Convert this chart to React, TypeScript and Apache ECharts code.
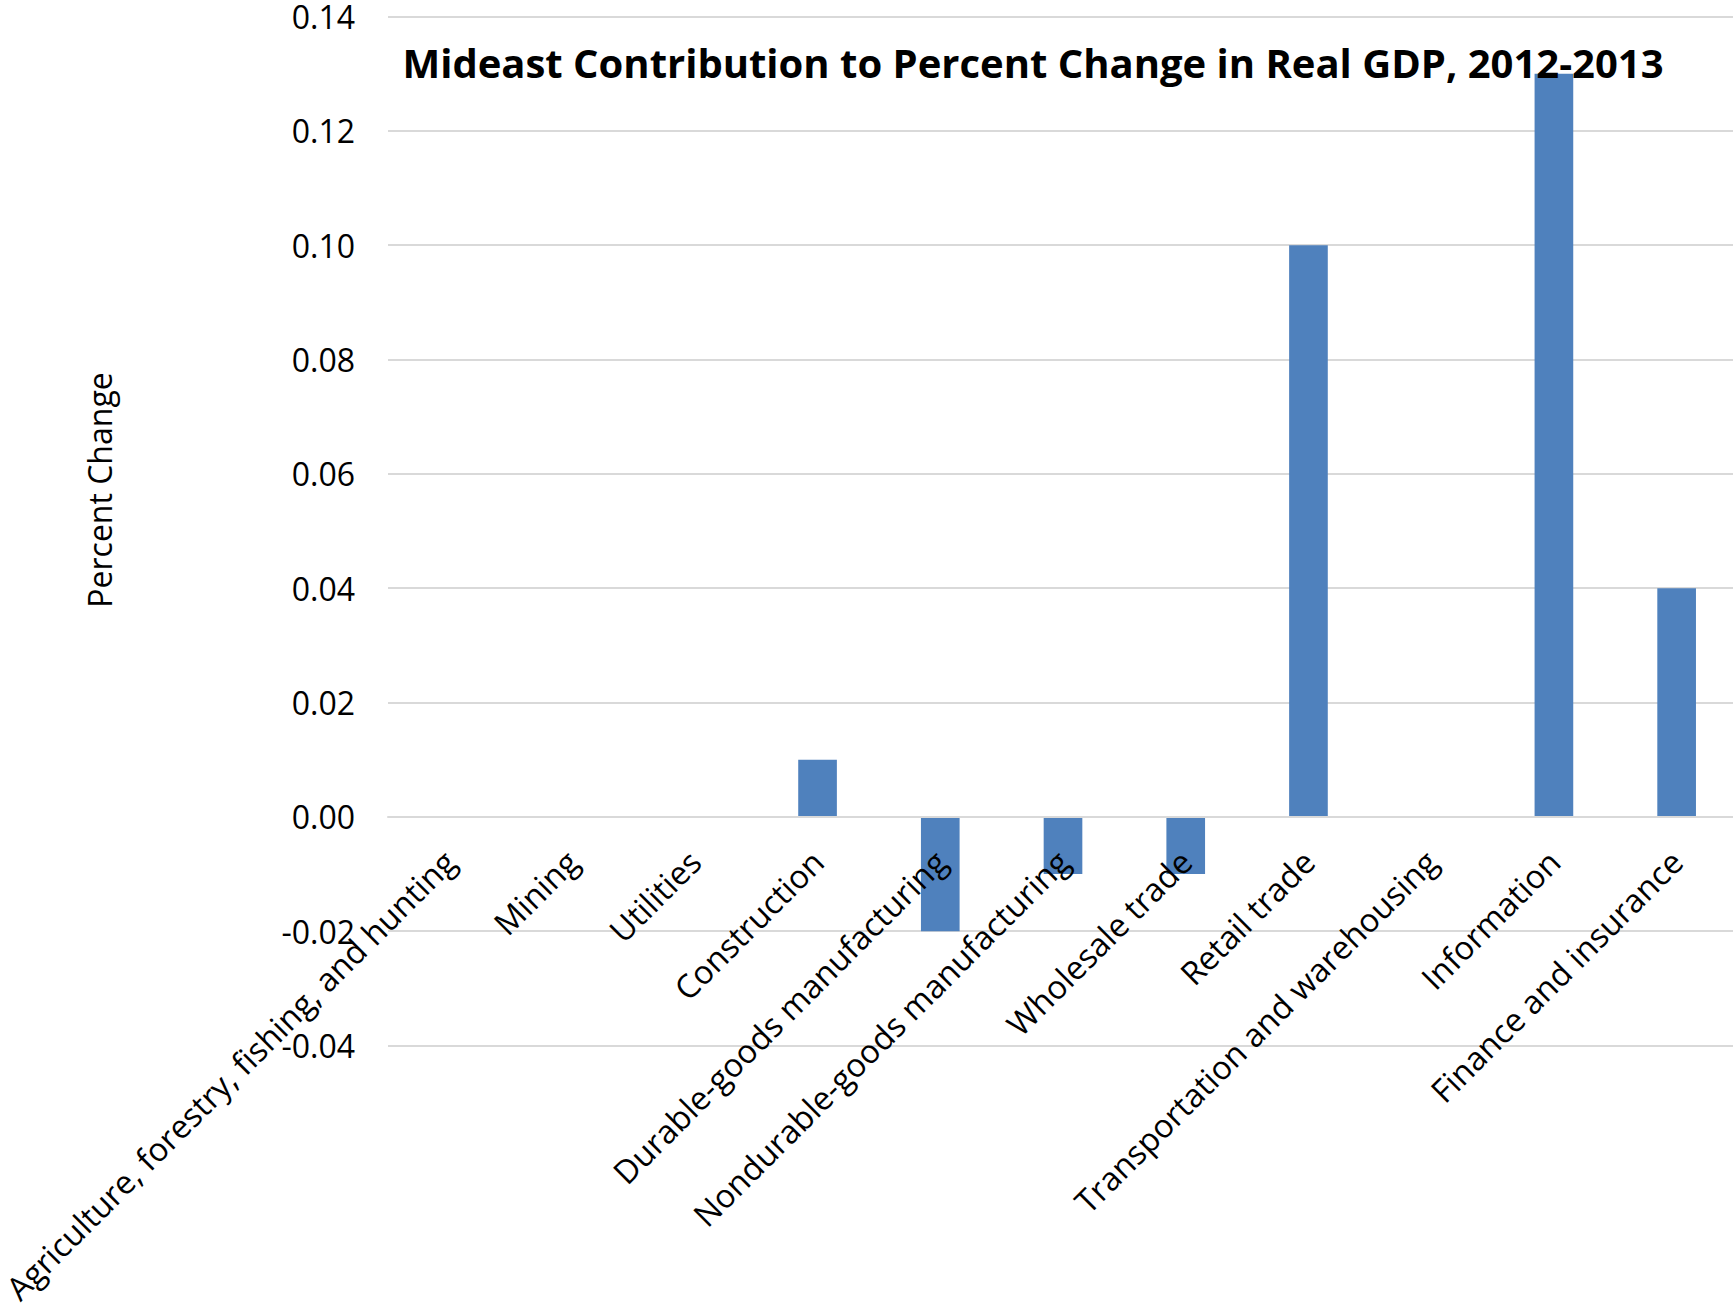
import React, { useEffect, useRef } from "react";
import * as echarts from "echarts";

const categories = [
  "Agriculture, forestry, fishing, and hunting",
  "Mining",
  "Utilities",
  "Construction",
  "Durable-goods manufacturing",
  "Nondurable-goods manufacturing",
  "Wholesale trade",
  "Retail trade",
  "Transportation and warehousing",
  "Information",
  "Finance and insurance",
];
const values = [0, 0, 0, 0.01, -0.02, -0.01, -0.01, 0.1, 0, 0.13, 0.04];
const yMin = -0.04;
const yMax = 0.14;
const yStep = 0.02;
const titleText = "Mideast Contribution to Percent Change in Real GDP, 2012-2013";
const yAxisTitle = "Percent Change";

const FONT = "'Open Sans', 'Noto Sans', sans-serif";

export default function App() {
  const ref = useRef<HTMLDivElement>(null);
  useEffect(() => {
    document.body.style.margin = "0";
    const gridTop = 16.6;
    const gridBottomY = 1045.5;
    const stepPx = (gridBottomY - gridTop) / ((yMax - yMin) / yStep);
    const zeroOffset = -((0 - yMin) / yStep) * stepPx;
    const chart = echarts.init(ref.current!, null, { renderer: "svg" });
    chart.setOption({
      animation: false,
      backgroundColor: "#ffffff",
      grid: {
        left: 388,
        top: gridTop,
        right: -5,
        bottom: 1307 - gridBottomY,
        containLabel: false,
        outerBoundsMode: "none",
      },
      xAxis: {
        type: "category",
        data: categories,
        position: "bottom",
        offset: zeroOffset,
        z: 10,
        axisLine: { onZero: false, lineStyle: { color: "#d9d9d9", width: 2 } },
        axisTick: { show: false },
        axisLabel: {
          interval: 0,
          rotate: 45,
          margin: 39,
          fontFamily: FONT,
          fontSize: 32.5,
          color: "#000000",
        },
      },
      yAxis: {
        type: "value",
        min: yMin,
        max: yMax,
        interval: yStep,
        axisLine: { show: false },
        axisTick: { show: false },
        splitLine: { lineStyle: { color: "#d9d9d9", width: 2 } },
        axisLabel: {
          margin: 33,
          fontFamily: FONT,
          fontSize: 32,
          color: "#000000",
          formatter: (v: number) => v.toFixed(2),
        },
      },
      series: [
        {
          type: "bar",
          data: values,
          barWidth: "31.5%",
          itemStyle: { color: "#4f81bd" },
          z: 2,
        },
      ],
      graphic: [
        {
          type: "text",
          x: 1033,
          y: 62,
          style: {
            text: titleText,
            fontFamily: FONT,
            fontWeight: "bold",
            fontSize: 40,
            fill: "#000000",
            textAlign: "center",
            textVerticalAlign: "middle",
          },
          z: 100,
        },
        {
          type: "text",
          x: 99,
          y: 490,
          rotation: Math.PI / 2,
          style: {
            text: yAxisTitle,
            fontFamily: FONT,
            fontSize: 32,
            fill: "#000000",
            textAlign: "center",
            textVerticalAlign: "middle",
          },
        },
      ],
    });
    return () => chart.dispose();
  }, []);
  return <div ref={ref} style={{ width: 1733, height: 1307 }} />;
}
